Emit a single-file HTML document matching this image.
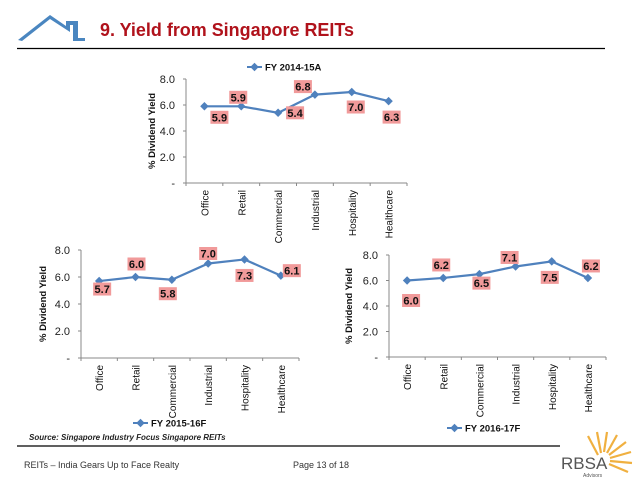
<!DOCTYPE html>
<html><head><meta charset="utf-8"><style>
body{margin:0;background:#fff;width:638px;height:479px;overflow:hidden;font-family:"Liberation Sans",sans-serif}
svg{display:block}
</style></head><body>
<svg id="s" width="638" height="479" viewBox="0 0 638 479">
<g>
<polygon points="18,40 50,15 66,26 66,21 78,21 78,38 85,38 85,41 73,41 73,25 70,25 70,32 50,19 22,41" fill="#4a86c0"/>
</g>
<text x="100" y="36" font-size="18" font-weight="bold" fill="#b0121b" textLength="254" lengthAdjust="spacingAndGlyphs">9. Yield from Singapore REITs</text>
<line x1="17" y1="48.5" x2="605" y2="48.5" stroke="#000" stroke-width="1.2"/>
<text x="29" y="440" font-size="8" font-style="italic" font-weight="bold" fill="#222">Source: Singapore Industry Focus Singapore REITs</text>
<line x1="17" y1="446" x2="560" y2="446" stroke="#000" stroke-width="1.2"/>
<text x="24" y="468" font-size="9" fill="#333">REITs – India Gears Up to Face Realty</text>
<text x="293" y="468" font-size="9" fill="#333">Page 13 of 18</text>
<g>
<g stroke="#f0b040" stroke-width="2.2" fill="none">
<line x1="598" y1="455" x2="588" y2="436"/><line x1="601" y1="453" x2="597" y2="432"/><line x1="604" y1="452" x2="607" y2="432"/><line x1="607" y1="453" x2="617" y2="435"/><line x1="609" y1="455" x2="626" y2="442"/><line x1="610" y1="458" x2="631" y2="452"/><line x1="610" y1="461" x2="632" y2="463"/><line x1="609" y1="464" x2="628" y2="472"/>
</g>
<text x="561" y="469" font-size="17" fill="#555">RBSA</text>
<text x="583" y="477" font-size="5" fill="#555">Advisors</text>
</g>
</svg>
<script>
const categories=["Office","Retail","Commercial","Industrial","Hospitality","Healthcare"];
const series1=[5.9,5.9,5.4,6.8,7.0,6.3];
const series2=[5.7,6.0,5.8,7.0,7.3,6.1];
const series3=[6.0,6.2,6.5,7.1,7.5,6.2];
const yTicks=[0,2,4,6,8];
const yTickLabels=["-","2.0","4.0","6.0","8.0"];
const seriesNames=["FY 2014-15A","FY 2015-16F","FY 2016-17F"];
const NS="http://www.w3.org/2000/svg";
const svg=document.getElementById('s');
function el(t,a,p){const e=document.createElementNS(NS,t);for(const k in a)e.setAttribute(k,a[k]);(p||svg).appendChild(e);return e;}
function chart(cfg,vals,name,idx){
  const g=el('g',{});
  
  
  const y=v=>cfg.y0-(cfg.y0-cfg.y8)*v/8;
  const step=(cfg.x1-cfg.x0)/categories.length;
  const x=i=>cfg.x0+step*(i+0.5);
  el('line',{x1:cfg.x0,y1:cfg.y8,x2:cfg.x0,y2:cfg.y0,stroke:'#888'},g);
  el('line',{x1:cfg.x0,y1:cfg.y0,x2:cfg.x1,y2:cfg.y0,stroke:'#888'},g);
  yTicks.forEach((t,i)=>{
    el('line',{x1:cfg.x0-3,y1:y(t),x2:cfg.x0,y2:y(t),stroke:'#888'},g);
    const tx=el('text',{x:cfg.x0-11,y:y(t)+4,'font-size':11,'text-anchor':'end',fill:'#222'},g);
    tx.textContent=yTickLabels[i];
    
    
  });
  for(let i=0;i<=categories.length;i++)el('line',{x1:cfg.x0+step*i,y1:cfg.y0,x2:cfg.x0+step*i,y2:cfg.y0+3,stroke:'#888'},g);
  categories.forEach((c,i)=>{
    const tx=el('text',{transform:`translate(${x(i)+4},${cfg.y0+7}) rotate(-90)`,'font-size':10,'text-anchor':'end',fill:'#111'},g);
    tx.textContent=c;
    
    
  });
  const yt=el('text',{transform:`translate(${cfg.ytx},${(cfg.y0+cfg.y8)/2}) rotate(-90)`,'font-size':9.5,'font-weight':'bold','text-anchor':'middle',fill:'#111'},g);
  yt.textContent='% Dividend Yield';
  
  
  const pl=el('polyline',{points:vals.map((v,i)=>x(i)+','+y(v)).join(' '),fill:'none',stroke:'#4f81bd','stroke-width':2.2},g);
  
  
  vals.forEach((v,i)=>{
    const m=el('rect',{x:x(i)-3,y:y(v)-3,width:6,height:6,fill:'#4f81bd',transform:`rotate(45 ${x(i)} ${y(v)})`},g);
    
    
    const cx=x(i)+cfg.off[i][0], cy=y(v)+cfg.off[i][1];
    const r=el('rect',{x:cx-9,y:cy-6.5,width:18,height:13,fill:'#f19a9a'},g);
    
    
    const t=el('text',{x:cx,y:cy+4,'font-size':11,'font-weight':'bold','text-anchor':'middle',fill:'#111'},g);
    t.textContent=v.toFixed(1);
    
    
  });
  const lg=el('g',{},g);
  
  
  el('line',{x1:cfg.lx,y1:cfg.ly,x2:cfg.lx+15,y2:cfg.ly,stroke:'#4f81bd','stroke-width':2},lg);
  el('rect',{x:cfg.lx+4.5,y:cfg.ly-3,width:6,height:6,fill:'#4f81bd',transform:`rotate(45 ${cfg.lx+7.5} ${cfg.ly})`},lg);
  const lt=el('text',{x:cfg.lx+18,y:cfg.ly+3.5,'font-size':9.5,'font-weight':'bold',fill:'#111'},lg);
  lt.textContent=name;
}
chart({x0:186,x1:407,y0:183,y8:79,ytx:155,lx:247,ly:67,off:[[15,11],[-3,-9],[17,0],[-12,-8],[4,15],[3,16]]},series1,seriesNames[0],0);
chart({x0:81,x1:299,y0:358,y8:250,ytx:46,lx:133,ly:423,off:[[3,8],[1,-13],[-4,14],[0,-10],[0,16],[11,-5]]},series2,seriesNames[1],1);
chart({x0:389,x1:606,y0:357,y8:255,ytx:352,lx:447,ly:428,off:[[4,20],[-2,-13],[2,9],[-6,-9],[-2,16],[3,-12]]},series3,seriesNames[2],2);
</script>
</body></html>
